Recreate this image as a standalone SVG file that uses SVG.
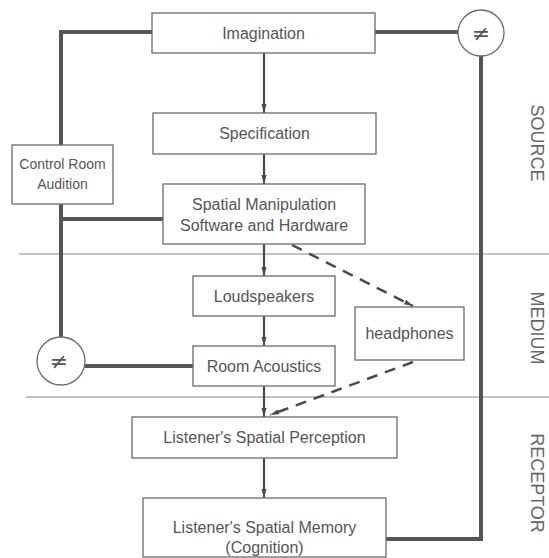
<svg xmlns="http://www.w3.org/2000/svg" width="549" height="558" viewBox="0 0 549 558">
<defs>
<marker id="ah" markerWidth="9" markerHeight="16" refX="16" refY="4.5" orient="auto" markerUnits="userSpaceOnUse" viewBox="0 0 16 9">
<path d="M0,0 L16,4.5 L0,9 Z" fill="#4a4a4a"/>
</marker>
<style>
.box{fill:#fff;stroke:#6a6a6a;stroke-width:1.3}
.t{font-family:"Liberation Sans",Arial,sans-serif;font-size:16px;fill:#555;text-anchor:middle}
.ts{font-size:14px}
.neq{font-family:"DejaVu Sans",sans-serif;font-size:22px;fill:#555;text-anchor:middle}
.lab{font-family:"Liberation Sans",Arial,sans-serif;font-size:18px;fill:#666;text-anchor:middle}
.thick{fill:none;stroke:#555;stroke-width:4}
.arr{fill:none;stroke:#4a4a4a;stroke-width:2.2;marker-end:url(#ah)}
.dash{fill:none;stroke:#4a4a4a;stroke-width:2.5;stroke-dasharray:11 8;marker-end:url(#ah)}
.sep{stroke:#888;stroke-width:1.2}
.circ{fill:#fff;stroke:#6a6a6a;stroke-width:1.3}
</style>
</defs>
<rect width="549" height="558" fill="#fff"/>
<g id="separators">
<line class="sep" x1="19" y1="254" x2="549" y2="254"/>
<line class="sep" x1="26" y1="397" x2="549" y2="397"/>
</g>
<g id="connectors">
<polyline class="thick" points="152,32 61,32 61,145"/>
<line class="thick" x1="61" y1="204" x2="61" y2="337"/>
<line class="thick" x1="61" y1="219" x2="163" y2="219"/>
<line class="thick" x1="85" y1="366" x2="193" y2="366"/>
<line class="thick" x1="375" y1="32" x2="458" y2="32"/>
<polyline class="thick" points="481,56 481,539 386,539"/>
<line class="arr" x1="264" y1="53" x2="264" y2="113"/>
<line class="arr" x1="264" y1="154" x2="264" y2="184"/>
<line class="arr" x1="264" y1="244" x2="264" y2="276"/>
<line class="arr" x1="264" y1="316" x2="264" y2="346"/>
<line class="arr" x1="264" y1="386" x2="264" y2="417"/>
<line class="arr" x1="264" y1="458" x2="264" y2="498"/>
<line class="dash" x1="292" y1="245" x2="413" y2="306"/>
<line class="dash" x1="413" y1="362" x2="270" y2="415"/>
</g>
<g id="imagination">
<rect class="box" x="152" y="13" width="223" height="40"/>
<text class="t" x="263.5" y="39">Imagination</text>
</g>
<g id="specification">
<rect class="box" x="153" y="113" width="223" height="41"/>
<text class="t" x="264.5" y="139">Specification</text>
</g>
<g id="control-room">
<rect class="box" x="12" y="145" width="101" height="59"/>
<text class="t ts" x="62.5" y="169">Control Room</text>
<text class="t ts" x="62.5" y="189">Audition</text>
</g>
<g id="spatial-manipulation">
<rect class="box" x="163" y="184" width="202" height="60"/>
<text class="t" x="264" y="210">Spatial Manipulation</text>
<text class="t" x="264" y="231">Software and Hardware</text>
</g>
<g id="loudspeakers">
<rect class="box" x="193" y="276" width="142" height="40"/>
<text class="t" x="264" y="302">Loudspeakers</text>
</g>
<g id="headphones">
<rect class="box" x="355" y="307" width="109" height="53" stroke-width="2"/>
<text class="t" x="409.5" y="339" font-size="15">headphones</text>
</g>
<g id="room-acoustics">
<rect class="box" x="193" y="346" width="142" height="40"/>
<text class="t" x="264" y="372">Room Acoustics</text>
</g>
<g id="perception">
<rect class="box" x="132" y="417" width="265" height="41"/>
<text class="t" x="264.5" y="443">Listener's Spatial Perception</text>
</g>
<g id="memory">
<rect class="box" x="143" y="498" width="243" height="59"/>
<text class="t" x="264.5" y="533">Listener's Spatial Memory</text>
<text class="t" x="264.5" y="553">(Cognition)</text>
</g>
<g id="neq-top">
<circle class="circ" cx="481" cy="33" r="23"/>
<text class="neq" x="481" y="41">≠</text>
</g>
<g id="neq-left">
<circle class="circ" cx="61" cy="361" r="24"/>
<text class="neq" x="59" y="369">≠</text>
</g>
<g id="labels">
<text class="lab" transform="translate(537,143) rotate(90)" y="6">SOURCE</text>
<text class="lab" transform="translate(537,328) rotate(90)" y="6">MEDIUM</text>
<text class="lab" transform="translate(537,483) rotate(90)" y="6">RECEPTOR</text>
</g>
</svg>
